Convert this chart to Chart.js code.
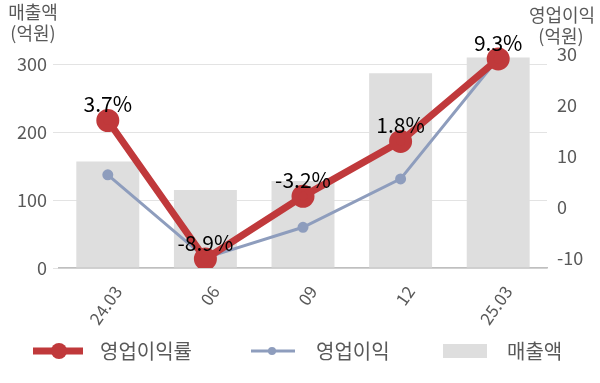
<!DOCTYPE html>
<html>
<head>
<meta charset="utf-8">
<script src="https://cdn.jsdelivr.net/npm/chart.js@4"></script>
<style>
  html, body { margin: 0; padding: 0; background: #fff; }
  #wrap { width: 600px; height: 383px; }
</style>
</head>
<body>
<div id="wrap"><canvas id="mixed-chart"></canvas></div>
<script>
const labels = ['24.03', '06', '09', '12', '25.03'];
const sales = [157, 115, 128, 287, 310];          // 매출액 (억원)
const profit = [6.3, -10.0, -4.0, 5.5, 29.2];      // 영업이익 (억원)
const margin = [3.7, -8.9, -3.2, 1.8, 9.3];        // 영업이익률 (%)
const salesTicks = [0, 100, 200, 300];
const profitTicks = [-10, 0, 10, 20, 30];

const FONT = '"Noto Sans CJK KR", "Noto Sans", sans-serif';
const RED = '#c0393b';
const BLUE = '#8e9dbd';
const BAR = '#dedede';
const TXT = '#595959';

// fixed tick values (min/max are not round numbers)
function fixedTicks(values) {
    return (scale) => {
        scale.ticks = values.map(v => ({ value: v }));
    };
}

// labels above the red points
const marginLabels = {
    id: 'marginLabels',
    afterDatasetsDraw(chart) {
        const c = chart.ctx;
        const meta = chart.getDatasetMeta(0);
        c.save();
        c.font = '21px ' + FONT;
        c.fillStyle = '#000';
        c.textAlign = 'center';
        c.textBaseline = 'middle';
        meta.data.forEach((pt, i) => {
            c.fillText(margin[i].toFixed(1) + '%', pt.x, pt.y - 16);
        });
        c.restore();
    }
};

// axis titles + legend drawn by hand
const extras = {
    id: 'extras',
    afterDraw(chart) {
        const c = chart.ctx;
        c.save();
        c.font = '18px ' + FONT;
        c.fillStyle = TXT;
        c.textAlign = 'center';
        c.textBaseline = 'middle';
        c.fillText('매출액', 33, 12);
        c.fillText('(억원)', 33, 33);
        c.fillText('영업이익', 562, 15);
        c.fillText('(억원)', 561, 36);

        // legend
        const y = 351;
        const ds = chart.data.datasets;
        c.lineCap = 'butt';
        c.strokeStyle = RED;
        c.lineWidth = 7;
        c.beginPath(); c.moveTo(33, y); c.lineTo(83, y); c.stroke();
        c.fillStyle = RED;
        c.beginPath(); c.arc(59, y, 8, 0, Math.PI * 2); c.fill();

        c.strokeStyle = BLUE;
        c.lineWidth = 3;
        c.beginPath(); c.moveTo(251, y); c.lineTo(295, y); c.stroke();
        c.fillStyle = BLUE;
        c.beginPath(); c.arc(272, y, 4, 0, Math.PI * 2); c.fill();

        c.fillStyle = BAR;
        c.fillRect(443, 344, 44, 14);

        c.font = '20px ' + FONT;
        c.fillStyle = TXT;
        c.textAlign = 'left';
        c.fillText(ds[0].label, 100, y);
        c.fillText(ds[1].label, 316, y);
        c.fillText(ds[2].label, 507, y);
        c.restore();
    }
};

new Chart(document.getElementById('mixed-chart'), {
    data: {
        labels: labels,
        datasets: [{
            type: 'line',
            label: '영업이익률',
            data: margin,
            yAxisID: 'yMargin',
            borderColor: RED,
            backgroundColor: RED,
            borderWidth: 7,
            pointRadius: 8,
            pointHoverRadius: 8,
            order: 1
        }, {
            type: 'line',
            label: '영업이익',
            data: profit,
            yAxisID: 'yProfit',
            borderColor: BLUE,
            backgroundColor: BLUE,
            borderWidth: 3,
            pointRadius: 4,
            pointHoverRadius: 4,
            order: 2
        }, {
            type: 'bar',
            label: '매출액',
            data: sales,
            yAxisID: 'ySales',
            backgroundColor: BAR,
            barPercentage: 0.645,
            categoryPercentage: 1,
            order: 3
        }]
    },
    options: {
        responsive: true,
        maintainAspectRatio: false,
        animation: false,
        layout: { padding: { top: 44, left: 0, right: 0, bottom: 0 } },
        plugins: {
            legend: { display: false },
            tooltip: { enabled: false }
        },
        scales: {
            x: {
                afterFit: (s) => { s.height = 115; },
                grid: { display: false },
                border: { display: true, color: '#bfbfbf', width: 1.5 },
                ticks: {
                    color: TXT,
                    font: { family: FONT, size: 17 },
                    minRotation: 55,
                    maxRotation: 55,
                    labelOffset: 10,
                    padding: 6
                }
            },
            ySales: {
                position: 'left',
                min: 0,
                max: 330,
                afterBuildTicks: fixedTicks(salesTicks),
                afterFit: (s) => { s.width = 59; },
                grid: { color: '#e3e3e3', tickLength: 6, tickColor: '#e3e3e3' },
                border: { display: false },
                ticks: {
                    color: TXT,
                    padding: 6,
                    font: { family: FONT, size: 18 }
                }
            },
            yProfit: {
                position: 'right',
                min: -12,
                max: 32,
                afterBuildTicks: fixedTicks(profitTicks),
                afterFit: (s) => { s.width = 53; },
                grid: { display: false },
                border: { display: false },
                ticks: {
                    color: TXT,
                    padding: 2,
                    font: { family: FONT, size: 18 }
                }
            },
            yMargin: {
                display: false,
                min: -9.72,
                max: 10.66
            }
        }
    },
    plugins: [marginLabels, extras]
});
</script>
</body>
</html>
